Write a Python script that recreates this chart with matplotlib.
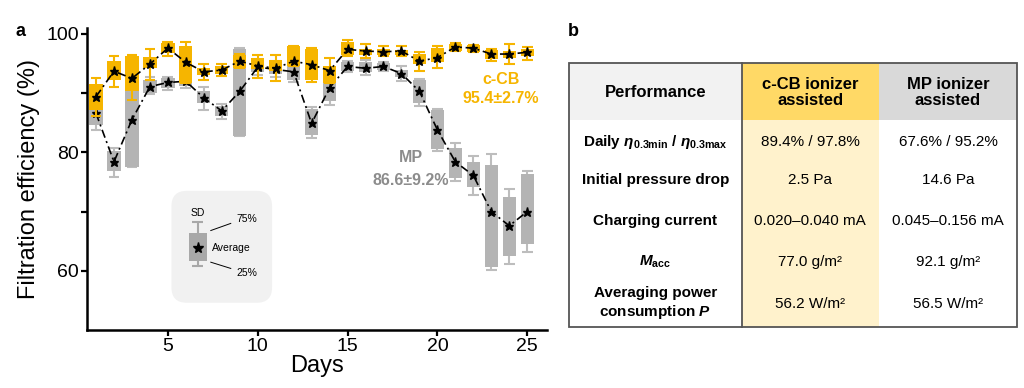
import matplotlib
matplotlib.use("Agg")
import matplotlib.pyplot as plt
import numpy as np
from matplotlib.patches import FancyBboxPatch, Rectangle

plt.rcParams['font.family'] = ['Liberation Sans', 'DejaVu Sans']
plt.rcParams['mathtext.fontset'] = 'custom'
plt.rcParams['mathtext.rm'] = 'Liberation Sans'
plt.rcParams['mathtext.it'] = 'Liberation Sans:italic'
plt.rcParams['mathtext.bf'] = 'Liberation Sans:bold'
plt.rcParams['mathtext.bfit'] = 'Liberation Sans:bold:italic'

# ---------------- data ----------------
days = np.arange(1, 26)

ccb_mean = [89.4, 93.7, 92.5, 94.9, 97.6, 95.2, 93.6, 93.9, 95.4, 94.6, 94.2, 95.4, 94.8,
            93.8, 97.4, 97.1, 97.0, 97.1, 95.4, 96.0, 97.8, 97.6, 96.6, 96.6, 96.9]
ccb_q75 = [91.5, 95.5, 96.2, 96.1, 98.5, 97.9, 94.2, 94.6, 96.4, 95.9, 95.6, 97.9, 97.4,
           94.6, 98.7, 97.5, 97.4, 97.3, 96.6, 97.6, 98.3, 98.1, 97.3, 97.2, 97.4]
ccb_q25 = [87.2, 92.2, 90.3, 94.2, 96.8, 91.7, 93.1, 93.2, 94.2, 94.0, 93.8, 94.6, 92.3,
           91.7, 96.4, 96.4, 96.4, 96.5, 94.9, 95.2, 97.2, 97.0, 95.7, 95.9, 96.2]
ccb_sd_hi = [92.5, 96.2, 96.4, 97.4, 98.7, 98.6, 95.0, 95.0, 96.6, 96.5, 96.5, 98.0, 97.6,
             95.9, 99.0, 98.3, 97.9, 97.9, 96.9, 97.9, 98.4, 98.2, 97.4, 98.3, 97.8]
ccb_sd_lo = [86.2, 91.1, 88.8, 92.3, 96.2, 91.7, 92.2, 92.9, 94.2, 92.6, 92.1, 94.6, 91.8,
             91.7, 96.3, 95.9, 96.2, 96.2, 93.8, 94.3, 97.2, 97.0, 95.5, 95.0, 95.6]

mp_mean = [86.6, 78.4, 85.5, 91.1, 91.8, 92.0, 89.2, 87.0, 90.3, 94.4, 94.0, 93.6, 84.9,
           90.9, 94.5, 94.2, 94.5, 93.3, 90.3, 83.8, 78.4, 76.1, 70.0, 67.6, 70.0]
mp_q75 = [87.2, 80.3, 90.3, 92.3, 92.5, 92.8, 90.4, 87.8, 97.4, 95.3, 95.0, 94.6, 87.4,
          92.5, 95.2, 95.2, 95.1, 93.9, 92.2, 87.2, 80.7, 78.4, 77.8, 72.4, 76.4]
mp_q25 = [84.7, 76.8, 77.6, 90.1, 90.9, 91.2, 88.3, 86.1, 82.8, 93.5, 93.2, 92.3, 83.0,
          88.7, 93.8, 93.6, 93.9, 92.8, 88.3, 80.6, 75.6, 74.2, 60.6, 62.5, 64.5]
mp_sd_hi = [87.8, 80.7, 90.5, 92.8, 92.8, 93.3, 91.1, 88.1, 97.6, 95.8, 95.5, 95.0, 87.6,
            93.0, 95.4, 95.6, 95.3, 94.6, 92.4, 87.4, 81.5, 79.4, 79.8, 73.8, 76.8]
mp_sd_lo = [83.8, 75.9, 77.6, 89.8, 90.5, 90.8, 87.2, 85.7, 82.7, 93.0, 92.7, 91.8, 82.4,
            88.0, 93.6, 93.0, 93.7, 92.0, 87.9, 80.3, 75.1, 72.8, 60.2, 61.1, 63.1]

ccb_name, ccb_stat = "c-CB", "95.4\u00b12.7%"
mp_name, mp_stat = "MP", "86.6\u00b19.2%"

# legend key example (schematic)
key_x = 6.67
key_box = (61.7, 66.4)
key_sd = (60.8, 68.2)
key_mean = 63.9

# table
tbl_header = ["Performance", "c-CB ionizer\nassisted", "MP ionizer\nassisted"]
tbl_rows = [r"Daily $\boldsymbol{\eta}_{\mathbf{0.3min}}$ / $\boldsymbol{\eta}_{\mathbf{0.3max}}$",
            "Initial pressure drop",
            "Charging current",
            r"$\boldsymbol{M}_{\mathbf{acc}}$",
            "Averaging power\n" + r"consumption $\boldsymbol{P}$"]
tbl_ccb = ["89.4% / 97.8%", "2.5 Pa", "0.020\u20130.040 mA", "77.0 g/m\u00b2", "56.2 W/m\u00b2"]
tbl_mp = ["67.6% / 95.2%", "14.6 Pa", "0.045\u20130.156 mA", "92.1 g/m\u00b2", "56.5 W/m\u00b2"]

# ---------------- style ----------------
ORANGE = '#F6B500'
GRAY = '#B4B4B4'
GRAY_W = '#BDBDBD'
W = 1024
H = 388

fig = plt.figure(figsize=(W / 100, H / 100), dpi=100)
ax = fig.add_axes([87 / W, 1 - 330 / H, (547 - 87) / W, (330 - 28) / H])

def draw_series(mean, q25, q75, lo, hi, col, wcol, z):
    q25 = np.array(q25); q75 = np.array(q75)
    ax.vlines(days, lo, hi, color=wcol, lw=1.5, zorder=z - 0.1)
    ax.hlines(hi, days - 0.3, days + 0.3, color=wcol, lw=1.5, zorder=z - 0.1)
    ax.hlines(lo, days - 0.3, days + 0.3, color=wcol, lw=1.5, zorder=z - 0.1)
    ax.bar(days, q75 - q25, bottom=q25, width=0.74, color=col, zorder=z, linewidth=0)
    ax.plot(days, mean, color='black', ls=(0, (5, 2.2, 1.2, 2.2)), lw=1.2,
            marker='*', ms=6.8, mfc='black', mec='black', zorder=z + 0.5)

draw_series(mp_mean, mp_q25, mp_q75, mp_sd_lo, mp_sd_hi, GRAY, GRAY_W, 2)
draw_series(ccb_mean, ccb_q25, ccb_q75, ccb_sd_lo, ccb_sd_hi, ORANGE, ORANGE, 4)

ax.set_xlim(0.5, 26.1)
ax.set_ylim(50, 101)
ax.set_xticks([5, 10, 15, 20, 25])
ax.set_yticks([60, 80, 100])
ax.set_yticks([70, 90], minor=True)
for s in ['top', 'right']:
    ax.spines[s].set_visible(False)
for s in ['left', 'bottom']:
    ax.spines[s].set_linewidth(1.8)
ax.tick_params(axis='both', which='both', direction='out', length=4, width=1.6,
               labelsize=14, pad=2)
ax.set_xlabel('Days', fontsize=17, labelpad=0)
ax.set_ylabel('Filtration efficiency (%)', fontsize=17, labelpad=4)

ax.text(23.55, 92.3, ccb_name, color=ORANGE, fontsize=11.5, fontweight='bold',
        ha='center', va='center', zorder=6)
ax.text(23.55, 89.1, ccb_stat, color=ORANGE, fontsize=11.5, fontweight='bold',
        ha='center', va='center', zorder=6)
ax.text(18.5, 79.1, mp_name, color='#8C8C8C', fontsize=11.5, fontweight='bold',
        ha='center', va='center', zorder=6)
ax.text(18.5, 75.3, mp_stat, color='#8C8C8C', fontsize=11.5, fontweight='bold',
        ha='center', va='center', zorder=6)

# legend inset
ax.add_patch(FancyBboxPatch((5.2, 54.6), 5.6, 18.9,
                            boxstyle="round,pad=0,rounding_size=0.85",
                            mutation_aspect=18 / 5.88, fc='#F1F1F1', ec='none', zorder=0.5))
ax.vlines(key_x, key_sd[0], key_sd[1], color='#A8A8A8', lw=1.5, zorder=0.8)
ax.hlines(key_sd, key_x - 0.3, key_x + 0.3, color='#A8A8A8', lw=1.5, zorder=0.8)
ax.bar([key_x], [key_box[1] - key_box[0]], bottom=key_box[0], width=1.0,
       color='#A8A8A8', zorder=0.9, linewidth=0)
ax.plot([key_x], [key_mean], marker='*', ms=8, color='black', zorder=1)
ax.text(key_x, 69.7, 'SD', fontsize=7.5, ha='center', va='center')
ax.text(8.83, 68.7, '75%', fontsize=7.5, ha='left', va='center')
ax.text(7.44, key_mean, 'Average', fontsize=7.5, ha='left', va='center')
ax.text(8.83, 59.6, '25%', fontsize=7.5, ha='left', va='center')
ax.plot([7.39, 8.5], [66.8, 68.0], color='black', lw=0.7, zorder=1)
ax.plot([7.39, 8.5], [61.45, 60.4], color='black', lw=0.7, zorder=1)

fig.text(15 / W, 1 - 32 / H, 'a', fontsize=13, fontweight='bold', ha='left', va='center')
fig.text(568 / W, 1 - 32 / H, 'b', fontsize=13, fontweight='bold', ha='left', va='center')

# ---------------- table ----------------
tx = fig.add_axes([0, 0, 1, 1])
tx.set_xlim(0, W)
tx.set_ylim(H, 0)
tx.axis('off')
xs = [569, 741.5, 879, 1017]
y0, yh, y1 = 62.7, 120, 326.7
hdr_cols = ['#F2F2F2', '#FFD966', '#D9D9D9']
for i in range(3):
    tx.add_patch(Rectangle((xs[i], y0), xs[i + 1] - xs[i], yh - y0, fc=hdr_cols[i], ec='none'))
tx.add_patch(Rectangle((xs[1], yh), xs[2] - xs[1], y1 - yh, fc='#FFF2CC', ec='none'))
tx.add_patch(Rectangle((xs[0], y0), xs[3] - xs[0], y1 - y0, fill=False, ec='#555555', lw=1.3))
tx.plot([xs[1], xs[1]], [y0, y1], color='#555555', lw=1.3)

cx = [(xs[i] + xs[i + 1]) / 2 for i in range(3)]
for i, t in enumerate(tbl_header):
    tx.text(cx[i], 92.5, t, fontsize=12, fontweight='bold', ha='center', va='center',
            linespacing=1.15)
row_y = [141.7, 180, 220.7, 261.7, 303.5]
for r, y in enumerate(row_y):
    tx.text(cx[0], y, tbl_rows[r], fontsize=11, fontweight='bold', ha='center', va='center',
            linespacing=1.2)
    tx.text(cx[1], y, tbl_ccb[r], fontsize=11, ha='center', va='center')
    tx.text(cx[2], y, tbl_mp[r], fontsize=11, ha='center', va='center')

fig.savefig('out.png', dpi=100)
